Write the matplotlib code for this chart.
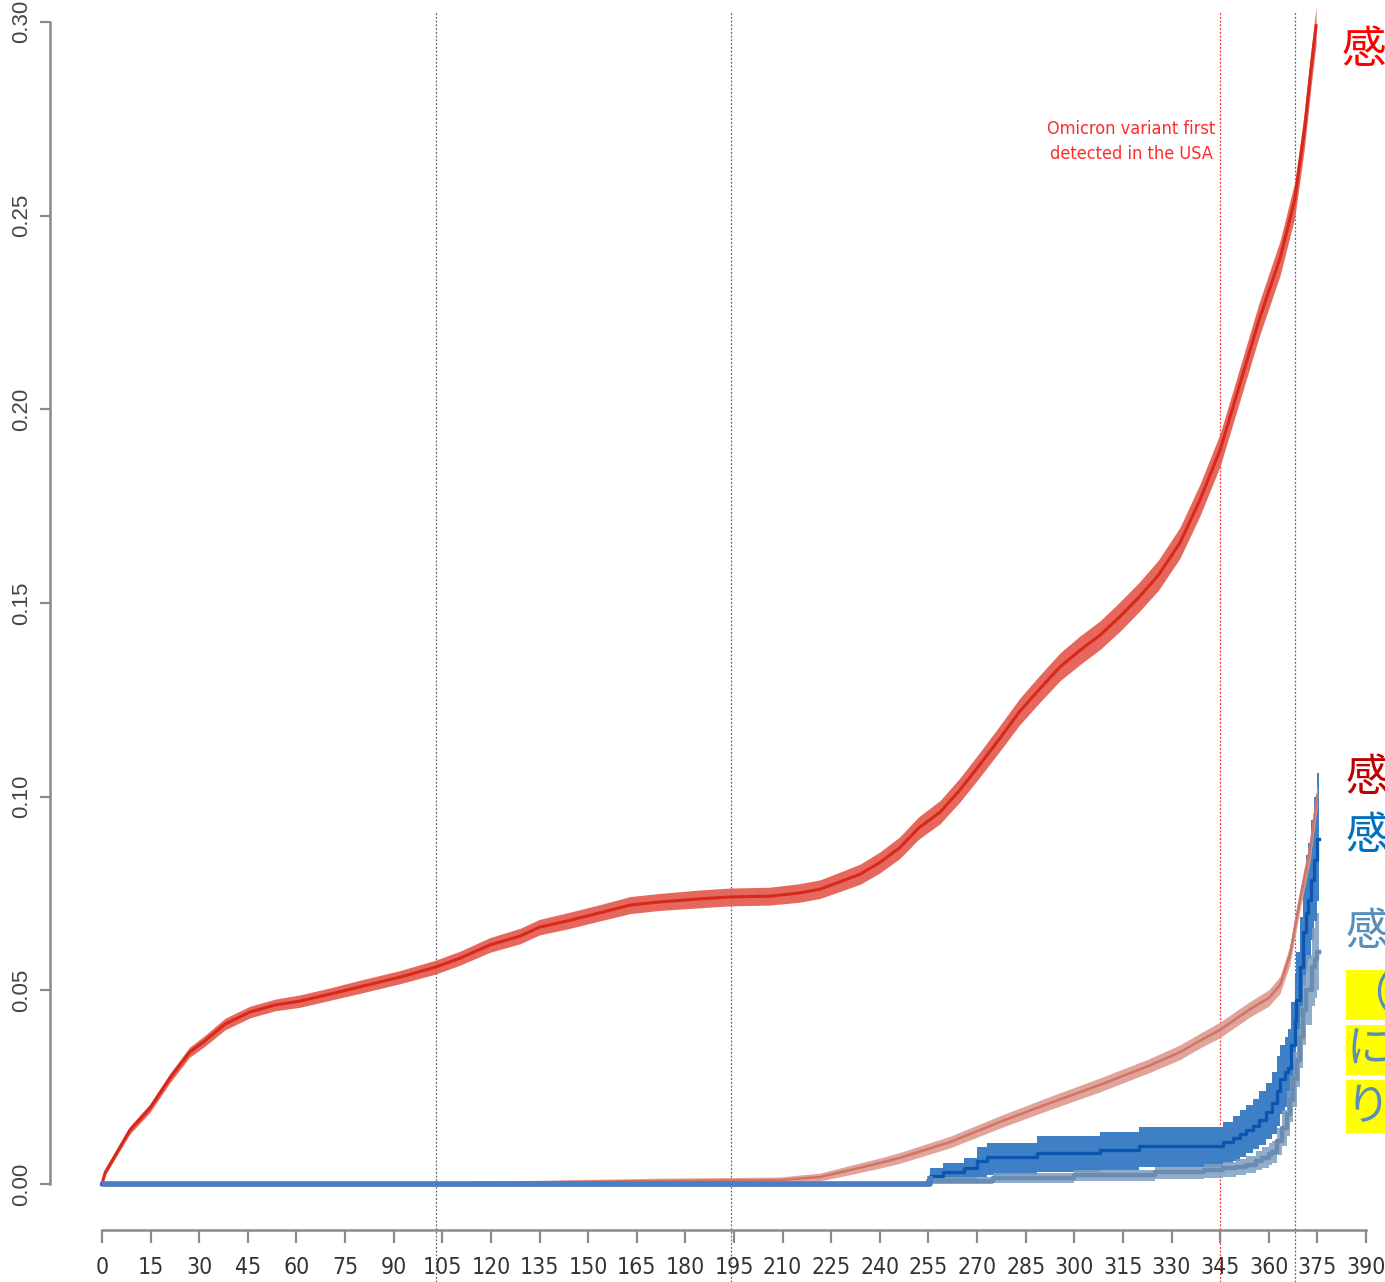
import matplotlib
matplotlib.use("Agg")
import matplotlib.pyplot as plt
from matplotlib.patches import Rectangle
from matplotlib import font_manager

# ---- cumulative incidence curves (days since start, estimate, CI) ----
red_days = [0, 1, 8.6, 14.8, 21, 27, 31.8, 38, 45.7, 53.4, 61, 70.3, 79.6, 92, 103,
            110.5, 119.7, 129, 135, 144, 153.6, 163, 172, 184.5, 194, 206, 215,
            221.5, 227.7, 234, 240, 246, 252, 258.6, 264.7, 271, 277, 283, 289,
            295.6, 301.8, 308, 314, 320, 326, 332.6, 338.8, 345, 351, 357, 363.5,
            368, 371, 373, 374.6]
red_est = [0, 0.003, 0.0139, 0.0196, 0.0274, 0.034, 0.037, 0.0413, 0.0444, 0.0462,
           0.0472, 0.049, 0.0509, 0.0534, 0.056, 0.0583, 0.0617, 0.064, 0.0663, 0.068,
           0.070, 0.072, 0.0728, 0.0736, 0.0741, 0.0743, 0.0751, 0.0761, 0.078, 0.080,
           0.083, 0.0867, 0.0919, 0.096, 0.1017, 0.1084, 0.115, 0.1218, 0.1275, 0.1335,
           0.1378, 0.1417, 0.1464, 0.1515, 0.1572, 0.1655, 0.1766, 0.1895, 0.2062, 0.223,
           0.239, 0.254, 0.272, 0.2876, 0.299]
red_ci = [0.0004, 0.0007, 0.001, 0.0011, 0.0012, 0.0013, 0.0014, 0.0015, 0.0015, 0.0015,
          0.0016, 0.0016, 0.0017, 0.0017, 0.0018, 0.0018, 0.0019, 0.002, 0.002, 0.0021,
          0.0021, 0.0022, 0.0022, 0.0023, 0.0023, 0.0023, 0.0024, 0.0024, 0.0025, 0.0026,
          0.0027, 0.0028, 0.0029, 0.003, 0.0031, 0.0032, 0.0033, 0.0034, 0.0035, 0.0036,
          0.0037, 0.0037, 0.0038, 0.0038, 0.0039, 0.004, 0.0041, 0.0042, 0.0043, 0.0044,
          0.0045, 0.0046, 0.0047, 0.0047, 0.0047]

salmon_days = [0, 90, 122.8, 172, 209, 221.5, 230.8, 240, 246, 261.6, 277, 292.5, 308,
               323, 332.6, 338.8, 345, 354, 360, 363.5, 366.5, 369.6, 372.7, 375]
salmon_est = [0, 0, 0.0003, 0.0008, 0.001, 0.0018, 0.0036, 0.0054, 0.0067, 0.0108,
              0.016, 0.0209, 0.0256, 0.0305, 0.034, 0.037, 0.0398, 0.045, 0.048, 0.0514,
              0.059, 0.0733, 0.086, 0.1004]
salmon_ci = [0.0002, 0.0003, 0.0005, 0.0007, 0.0008, 0.001, 0.0012, 0.0013, 0.0014,
             0.0015, 0.0016, 0.0017, 0.0018, 0.0018, 0.0019, 0.0019, 0.002, 0.002,
             0.0021, 0.0022, 0.0025, 0.0028, 0.003, 0.003]

blue_days = [0, 255.5, 259.5, 266, 270, 273, 288.5, 308, 320, 346, 349, 351, 353, 355,
             357, 359, 361, 362.5, 363.5, 365, 366, 367, 368, 368.5, 369.5, 370.5,
             371.5, 372, 373, 374, 375, 375.6]
blue_est = [0, 0.002, 0.003, 0.004, 0.006, 0.007, 0.008, 0.0088, 0.0098, 0.0108, 0.0119,
            0.0128, 0.0139, 0.015, 0.0165, 0.0185, 0.021, 0.024, 0.027, 0.029, 0.030,
            0.036, 0.042, 0.0475, 0.056, 0.065, 0.070, 0.0733, 0.0785, 0.0836, 0.089, 0.089]
blue_lo = [0, 0.0003, 0.0008, 0.0012, 0.0018, 0.0022, 0.003, 0.0035, 0.0044, 0.0054,
           0.006, 0.007, 0.008, 0.009, 0.010, 0.0115, 0.013, 0.015, 0.018, 0.020, 0.021,
           0.026, 0.031, 0.036, 0.043, 0.051, 0.055, 0.058, 0.063, 0.068, 0.073, 0.073]
blue_hi = [0.0004, 0.004, 0.0055, 0.0068, 0.0095, 0.0106, 0.0125, 0.0135, 0.0147, 0.016,
           0.0175, 0.019, 0.0205, 0.022, 0.024, 0.026, 0.029, 0.033, 0.036, 0.038, 0.040,
           0.047, 0.054, 0.060, 0.069, 0.078, 0.085, 0.088, 0.094, 0.100, 0.106, 0.106]

steel_days = [0, 255, 275, 300, 325, 340, 346, 350, 353, 356, 358, 360, 361, 362.5, 364,
              365.5, 366.5, 367.5, 368.7, 369.5, 370.5, 371.5, 373.4, 374.3, 375, 375.6]
steel_est = [0, 0.0008, 0.0015, 0.0022, 0.003, 0.0035, 0.0041, 0.0045, 0.0049, 0.006,
             0.0068, 0.0078, 0.0083, 0.011, 0.0145, 0.018, 0.0217, 0.027, 0.032, 0.038,
             0.045, 0.050, 0.056, 0.058, 0.060, 0.060]
steel_lo = [0, 0, 0.0003, 0.0008, 0.0012, 0.0015, 0.0018, 0.0022, 0.0028, 0.0036, 0.0042,
            0.005, 0.0055, 0.0075, 0.0098, 0.0125, 0.016, 0.020, 0.025, 0.030, 0.036,
            0.041, 0.046, 0.048, 0.050, 0.050]
steel_hi = [0.0003, 0.0018, 0.0028, 0.0036, 0.0045, 0.0052, 0.0056, 0.0065, 0.0072,
            0.0085, 0.0095, 0.0105, 0.0112, 0.0145, 0.019, 0.024, 0.028, 0.034, 0.040,
            0.046, 0.054, 0.059, 0.066, 0.068, 0.070, 0.070]

# reference dates (days)
event_days = [103, 194, 368]
omicron_day = 345

x_ticks = list(range(0, 391, 15))
y_ticks = [0.00, 0.05, 0.10, 0.15, 0.20, 0.25, 0.30]
y_tick_labels = ["0.00", "0.05", "0.10", "0.15", "0.20", "0.25", "0.30"]

# pick a narrow sans face for the axis and annotation text
_fonts = font_manager.fontManager.ttflist
_names = {f.name for f in _fonts}
if "Liberation Sans Narrow" in _names:
    narrow = dict(family=["Liberation Sans Narrow", "DejaVu Sans"])
elif any("Condensed" in f.name for f in _fonts if f.name.startswith("DejaVu Sans")):
    narrow = dict(family=["DejaVu Sans Condensed", "DejaVu Sans"])
elif any(f.name == "DejaVu Sans" and f.stretch == "condensed" for f in _fonts):
    narrow = dict(family=["DejaVu Sans"], fontstretch="condensed")
else:
    narrow = dict(family=["Roboto", "DejaVu Sans"])

W, H = 1385, 1282
fig = plt.figure(figsize=(W / 100, H / 100), dpi=100)
ax = fig.add_axes([0, 0, 1, 1])
ax.set_xlim(-31.47, 395.87)
ax.set_ylim(-0.02530, 0.30563)
ax.patch.set_alpha(0)

# reference lines
for d in event_days:
    ax.axvline(d, ymin=0.0, ymax=0.9906, color="#666666", lw=0.9, ls=(0, (1.5, 1.5)), zorder=1)
ax.axvline(omicron_day, ymin=0.0, ymax=0.9906, color="#FF3030", lw=0.9, ls=(0, (1.5, 1.5)), zorder=1)

# main red curve
lo = [e - c for e, c in zip(red_est, red_ci)]
hi = [e + c for e, c in zip(red_est, red_ci)]
ax.fill_between(red_days, lo, hi, color="#E4584A", lw=0, alpha=0.9, zorder=3)
ax.plot(red_days, red_est, color="#D8281C", lw=2.2, zorder=4)

# blue and steel-blue bands (step)
ax.fill_between(blue_days, blue_lo, blue_hi, step="post", color="#3F7FC6", lw=0, zorder=5)
ax.fill_between(steel_days, steel_lo, steel_hi, step="post", color="#7E9FC0", lw=0, alpha=0.85, zorder=6)

# faded red curve
s_lo = [e - c for e, c in zip(salmon_est, salmon_ci)]
s_hi = [e + c for e, c in zip(salmon_est, salmon_ci)]
ax.fill_between(salmon_days, s_lo, s_hi, color="#DE9A90", lw=0, alpha=0.9, zorder=7)
ax.plot(salmon_days, salmon_est, color="#D07468", lw=1.8, zorder=8)

# estimate lines for blue groups
ax.plot(steel_days, steel_est, drawstyle="steps-post", color="#6A8CB2", lw=3.2, zorder=9)
ax.plot(blue_days, blue_est, drawstyle="steps-post", color="#0A56B0", lw=2.4, zorder=10)
ax.plot(blue_days[:2], blue_est[:2], drawstyle="steps-post", color="#4D7FBE", lw=4.0,
        solid_capstyle="butt", zorder=10)

# R-style detached axes
for s in ("top", "right"):
    ax.spines[s].set_visible(False)
ax.spines["left"].set_position(("data", -16.04))
ax.spines["left"].set_bounds(0, 0.30)
ax.spines["bottom"].set_position(("data", -0.011874))
ax.spines["bottom"].set_bounds(0, 390)
for s in ("left", "bottom"):
    ax.spines[s].set_color("#8a8a8a")
    ax.spines[s].set_linewidth(1.8)

ax.set_xticks(x_ticks)
ax.set_xticklabels([str(t) for t in x_ticks], fontsize=16.5, color="#333333", **narrow)
ax.set_yticks(y_ticks)
ax.set_yticklabels(y_tick_labels, rotation=90, va="center",
                   family=["Liberation Sans", "DejaVu Sans"], fontsize=16, color="#444444")
ax.tick_params(axis="x", direction="out", length=9, width=1.6, color="#8a8a8a", pad=10)
ax.tick_params(axis="y", direction="out", length=7, width=1.6, color="#8a8a8a", pad=6)

ax.text(317.5, 0.2692, "Omicron variant first\ndetected in the USA", color="#FF2A2A",
        ha="center", va="center", ma="center", fontsize=13, linespacing=1.5,
        zorder=11, **narrow)

# right-hand annotations
cjk = ["Noto Sans CJK JP", "DejaVu Sans"]

def ftxt(px, py, s, color, size=32):
    fig.text(px / W, 1 - py / H, s, color=color, fontsize=size, family=cjk,
             ha="left", va="center")

ftxt(1342, 50, "感", "#FF0000")
ftxt(1346, 778, "感", "#C00000")
ftxt(1346, 836, "感", "#0070C0")
ftxt(1346, 932, "感", "#5A8EBA")

for (top, bottom), s in zip([(970, 1020), (1025, 1075), (1080, 1133)], ["（", "に", "り"]):
    fig.patches.append(Rectangle((1346 / W, 1 - bottom / H), (W - 1346) / W, (bottom - top) / H,
                                 transform=fig.transFigure, facecolor="#FFFF00", edgecolor="none"))
    ftxt(1346, (top + bottom) / 2, s, "#5A8EBA")

fig.savefig("out.png", dpi=100, facecolor="white")
